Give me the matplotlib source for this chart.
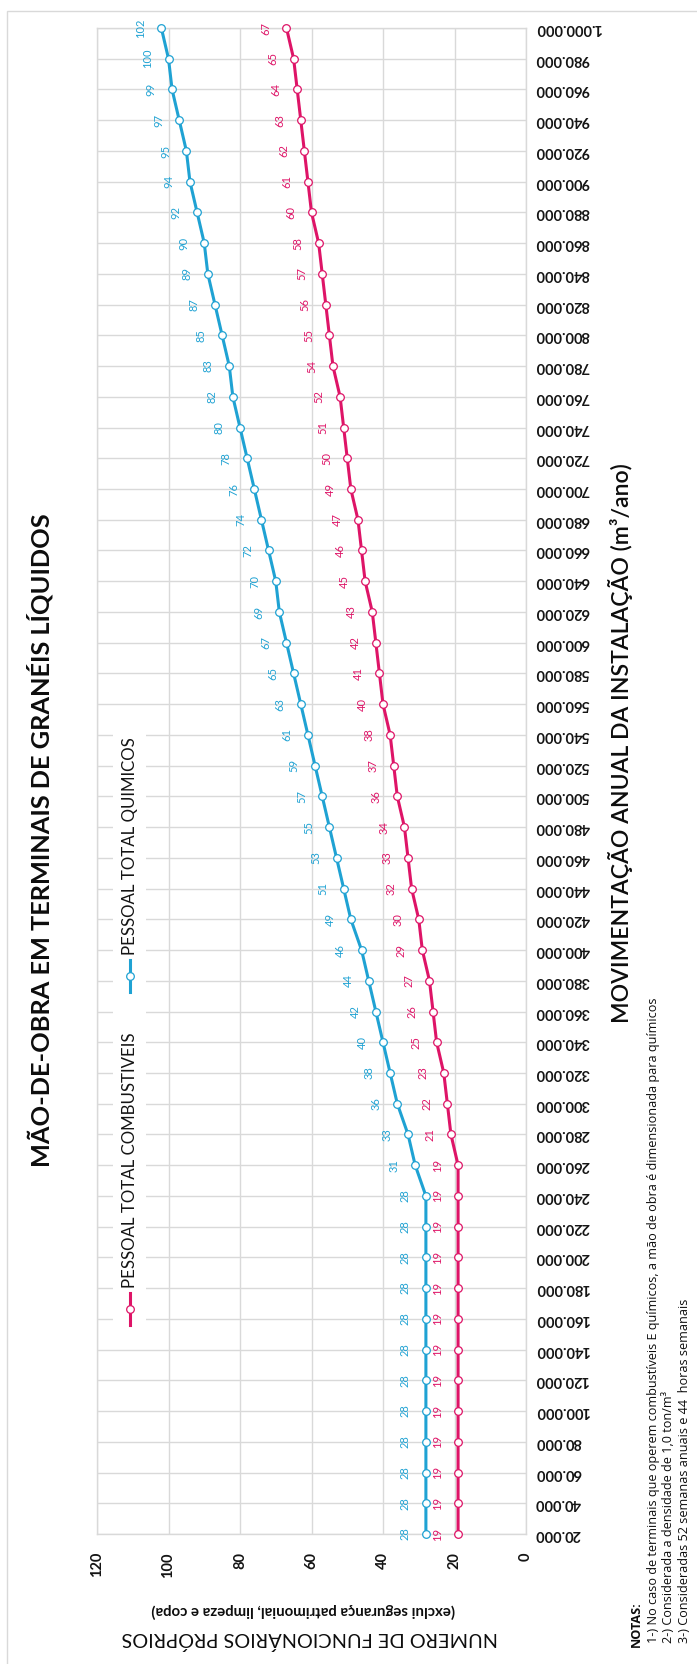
import matplotlib
matplotlib.use('Agg')
import matplotlib.pyplot as plt
from matplotlib.lines import Line2D
from matplotlib.patches import Rectangle

plt.rcParams['font.family'] = ['Lato', 'DejaVu Sans']

# ---------------- data ----------------
categories = ["20.000", "40.000", "60.000", "80.000", "100.000", "120.000", "140.000",
              "160.000", "180.000", "200.000", "220.000", "240.000", "260.000", "280.000",
              "300.000", "320.000", "340.000", "360.000", "380.000", "400.000", "420.000",
              "440.000", "460.000", "480.000", "500.000", "520.000", "540.000", "560.000",
              "580.000", "600.000", "620.000", "640.000", "660.000", "680.000", "700.000",
              "720.000", "740.000", "760.000", "780.000", "800.000", "820.000", "840.000",
              "860.000", "880.000", "900.000", "920.000", "940.000", "960.000", "980.000",
              "1.000.000"]

combustiveis = [19, 19, 19, 19, 19, 19, 19, 19, 19, 19, 19, 19, 19, 21, 22, 23, 25, 26, 27,
                29, 30, 32, 33, 34, 36, 37, 38, 40, 41, 42, 43, 45, 46, 47, 49, 50, 51, 52,
                54, 55, 56, 57, 58, 60, 61, 62, 63, 64, 65, 67]

quimicos = [28, 28, 28, 28, 28, 28, 28, 28, 28, 28, 28, 28, 31, 33, 36, 38, 40, 42, 44,
            46, 49, 51, 53, 55, 57, 59, 61, 63, 65, 67, 69, 70, 72, 74, 76, 78, 80, 82,
            83, 85, 87, 89, 90, 92, 94, 95, 97, 99, 100, 102]

value_ticks = [0, 20, 40, 60, 80, 100, 120]

series_names = ["PESSOAL TOTAL COMBUSTIVEIS", "PESSOAL TOTAL QUIMICOS"]
title = "MÃO-DE-OBRA EM TERMINAIS DE GRANÉIS LÍQUIDOS"
cat_axis_label = "MOVIMENTAÇÃO ANUAL DA INSTALAÇÃO (m³/ano)"
val_axis_label = "NUMERO DE FUNCIONÁRIOS PRÓPRIOS"
val_axis_sub = "(exclui segurança patrimonial, limpeza e copa)"
notes_title = "NOTAS:"
notes = ["1-) No caso de terminais que operem combustíveis E químicos, a mão de obra é dimensionada para químicos",
         "2-) Considerada a densidade de 1,0 ton/m³",
         "3-) Consideradas 52 semanas anuais e 44  horas semanais"]

# ---------------- style ----------------
PINK = '#DE1467'
BLUE = '#1FA2D3'
GRID = '#D9D9D9'
TXT = '#141414'
DARK = '#0d0d0d'

W, H = 697, 1664
DPI = 100
fig = plt.figure(figsize=(W / DPI, H / DPI), dpi=DPI)
fig.patch.set_facecolor('white')
renderer = fig.canvas.get_renderer()


def fx(px):
    return px / W


def fy(py):
    return 1 - py / H


def fit(t, target, vertical=True):
    """scale font size so that the text's length (in px) matches target"""
    for _ in range(3):
        bb = t.get_window_extent(renderer)
        cur = bb.height if vertical else bb.width
        if cur > 0:
            t.set_fontsize(t.get_fontsize() * target / cur)
    return t.get_fontsize()


# outer border (cropped at right/bottom)
fig.add_artist(Rectangle((fx(7), fy(1700)), fx(760), (1700 - 11) / H,
                         transform=fig.transFigure, fill=False,
                         edgecolor=GRID, lw=1.0, clip_on=False))

AX_L, AX_R, AX_T, AX_B = 97, 526, 28, 1534
ax = fig.add_axes([fx(AX_L), fy(AX_B), (AX_R - AX_L) / W, (AX_B - AX_T) / H])
pos = list(range(len(categories)))
ax.set_ylim(0, len(categories) - 1)
ax.set_xlim(120, 0)
ax.set_xticks(value_ticks)
ax.set_xticklabels([str(v) for v in value_ticks], rotation=90, fontweight='bold',
                   fontsize=10.5, color=TXT)
ax.set_yticks(pos)
ax.set_yticklabels(categories, rotation=180, fontweight='bold', fontsize=10.5, color=TXT)
ax.yaxis.tick_right()
for lab in ax.get_yticklabels():
    lab.set_va('center')
ax.tick_params(axis='y', length=0, pad=6.5)
ax.tick_params(axis='x', length=0, pad=13)
ax.grid(True, color=GRID, lw=1.0)
ax.set_axisbelow(True)
for s in ax.spines.values():
    s.set_color(GRID)
    s.set_linewidth(1.0)

for vals, col in ((combustiveis, PINK), (quimicos, BLUE)):
    ax.plot(vals, pos, color=col, lw=2.2, marker='o', ms=5.5, mfc='white',
            mec=col, mew=0.9, zorder=3, clip_on=False)
    for v, p in zip(vals, pos):
        ax.annotate(str(v), (v, p), xytext=(-15, 0), textcoords='offset points',
                    rotation=90, ha='center', va='center', fontsize=8, color=col,
                    zorder=4)

# ---------------- legend (rotated) ----------------
fig.add_artist(Rectangle((fx(113), fy(1335)), fx(146) - fx(113), (1335 - 725) / H,
                         transform=fig.transFigure, facecolor='white',
                         edgecolor='none', zorder=5))
leg_entries = [(series_names[0], PINK, 1309, 1288), (series_names[1], BLUE, 976, 955)]
leg_texts = []
for name, col, yc, yt in leg_entries:
    fig.add_artist(Line2D([fx(130), fx(130)], [fy(yc + 16), fy(yc - 16)],
                          transform=fig.transFigure, color=col, lw=2.2, zorder=6))
    fig.add_artist(Line2D([fx(130)], [fy(yc)], transform=fig.transFigure, color=col,
                          marker='o', ms=5.5, mfc='white', mec=col, mew=0.9, zorder=7))
    leg_texts.append(fig.text(fx(130), fy(yt), name, rotation=90, ha='center', va='bottom',
                              fontsize=13, color=TXT, zorder=7))
size = fit(leg_texts[0], 255)
leg_texts[1].set_fontsize(size)

# ---------------- titles / labels ----------------
t = fig.text(fx(40), fy(840), title, rotation=90, ha='center', va='center',
             fontsize=19, fontweight='bold', color=DARK)
fit(t, 654)
t = fig.text(fx(621), fy(743), cat_axis_label, rotation=90, ha='center', va='center',
             fontsize=17, fontweight='semibold', color=DARK)
fit(t, 560)
t = fig.text(fx(310), fy(1638), val_axis_label, rotation=180, ha='center', va='center',
             fontsize=14, color=DARK)
fit(t, 375, vertical=False)
t = fig.text(fx(303), fy(1611), val_axis_sub, rotation=180, ha='center', va='center',
             fontsize=9, fontweight='bold', color=DARK)
fit(t, 304, vertical=False)

# ---------------- notes ----------------
nt = []
for xn, line in zip((653, 669, 685), notes):
    nt.append(fig.text(fx(xn), fy(1643), line, rotation=90, ha='center', va='bottom',
                       fontsize=8.3, color=DARK, family=['Open Sans', 'DejaVu Sans']))
size = fit(nt[0], 643)
for t in nt[1:]:
    t.set_fontsize(size)
fig.text(fx(636), fy(1647), notes_title, rotation=90, ha='center', va='bottom',
         fontsize=size, fontweight='bold', color=DARK, family=['Open Sans', 'DejaVu Sans'])

fig.savefig('out.png', dpi=DPI, facecolor='white')
